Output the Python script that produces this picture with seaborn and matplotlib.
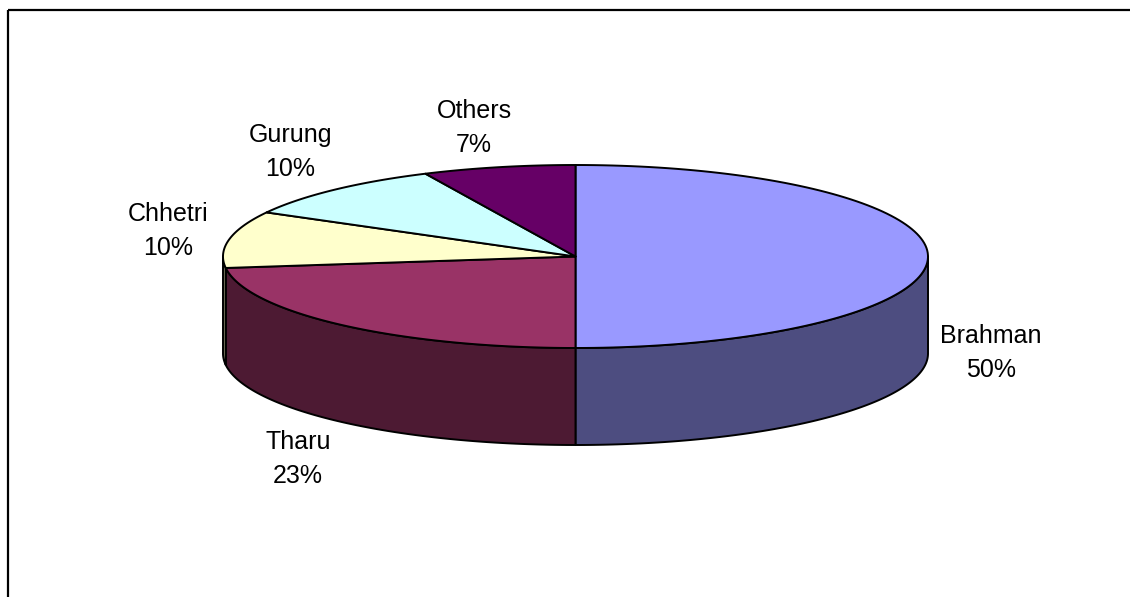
import numpy as np
import matplotlib
matplotlib.use("Agg")
import matplotlib.pyplot as plt
from matplotlib.patches import Polygon
import seaborn as sns

# Caste composition shares (percent)
castes = ["Brahman", "Tharu", "Chhetri", "Gurung", "Others"]
shares = [50, 23, 10, 10, 7]
top_colors = ["#9999FF", "#993366", "#FFFFCC", "#CCFFFF", "#660066"]

# Label anchor points (pixel space) for each caste
label_x = [991, 298, 168, 290, 474]
label_y = [353, 459, 231, 152, 128]

sns.set_theme(style="white")
plt.rcParams["font.family"] = ["Liberation Sans", "DejaVu Sans"]

W, H = 1130, 597
fig = plt.figure(figsize=(W / 100, H / 100), dpi=100)
ax = fig.add_axes([0, 0, 1, 1])
ax.set_xlim(0, W)
ax.set_ylim(H, 0)
ax.axis("off")

# Projected pie geometry
cx, cy = 575.5, 256.5
rx, ry = 352.5, 91.5
depth = 97
edge_kw = dict(edgecolor="black", linewidth=1.4, joinstyle="round")


def point(theta_deg, dz=0.0):
    t = np.radians(theta_deg)
    return cx + rx * np.cos(t), cy - ry * np.sin(t) + dz


def arc(a, b, dz=0.0, n=120):
    ts = np.linspace(a, b, n)
    return [point(t, dz) for t in ts]


def darken(hex_color, f=0.5):
    r, g, b = matplotlib.colors.to_rgb(hex_color)
    return (r * f, g * f, b * f)


total = float(sum(shares))
spans = []
start = 90.0
for v in shares:
    sweep = 360.0 * v / total
    spans.append((start - sweep, start))
    start -= sweep

# Front walls: the parts of each slice lying on the lower half of the rim
for (a, b), col in zip(spans, top_colors):
    for lo, hi in [(-180.0, 0.0), (-540.0, -360.0), (180.0, 360.0)]:
        s, e = max(a, lo), min(b, hi)
        if e - s <= 1e-6:
            continue
        pts = arc(s, e) + arc(e, s, dz=depth)
        ax.add_patch(Polygon(pts, closed=True, facecolor=darken(col), **edge_kw))

# Top faces
for (a, b), col in zip(spans, top_colors):
    pts = [(cx, cy)] + arc(b, a)
    ax.add_patch(Polygon(pts, closed=True, facecolor=col, **edge_kw))

# Category labels with percentages
for name, v, x, y in zip(castes, shares, label_x, label_y):
    ax.text(x, y, f"{name}\n{v / total * 100:.0f}%", ha="center", va="center",
            fontsize=18, color="black", linespacing=1.5)

# Chart frame (top and left edges)
ax.plot([8, W], [10, 10], color="black", lw=1.6, solid_capstyle="butt")
ax.plot([8, 8], [10, H], color="black", lw=1.6, solid_capstyle="butt")

fig.savefig("out.png", dpi=100, facecolor="white")
